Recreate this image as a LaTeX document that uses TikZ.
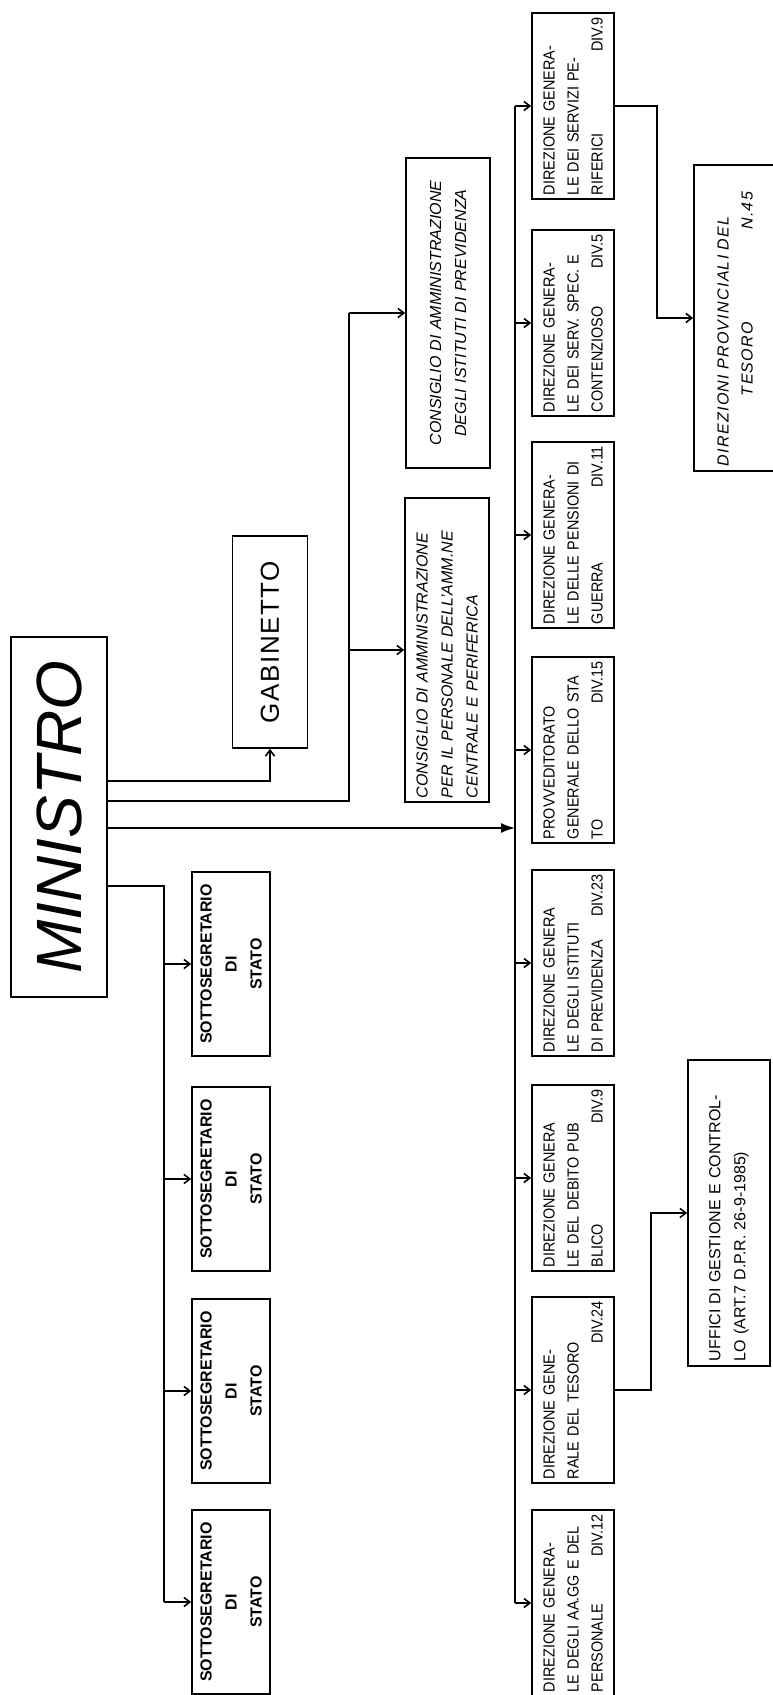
\documentclass[tikz,border=0pt]{standalone}
\usepackage{fontspec}
\setmainfont{Liberation Sans}
\newfontfamily\hand[FakeStretch=0.9]{Liberation Sans}
\usepackage{tikz}
\usetikzlibrary{shapes,calc}
\usetikzlibrary{arrows.meta}
\usetikzlibrary{positioning}
\tikzset{
    orgBox/.style={
        ,   draw
        ,   rotate=90
        ,   line width=1.6pt
        ,   inner sep=3pt
        ,   text=black
    },
    dirBox/.style={ % boxes of the direzioni column
        ,   orgBox
        ,   minimum width=186pt
        ,   minimum height=82pt
        ,   text width=178pt
        ,   align=left
        ,   font={\hand\fontsize{16}{24}\selectfont}
    },
    sottoBox/.style={
        ,   orgBox
        ,   minimum width=184pt
        ,   minimum height=78pt
        ,   text width=176pt
        ,   align=center
        ,   font={\fontsize{16}{25}\selectfont\bfseries}
    },
    consBox/.style={
        ,   orgBox
        ,   minimum width=#1
        ,   minimum height=84pt
        ,   text width=296pt
        ,   font={\fontsize{16}{25}\selectfont\itshape}
    },
    link/.style={line width=1.6pt},
    arr/.style={link, -{Straight Barb[length=6pt,width=9pt]}},
    bigArr/.style={link, -{Latex[length=14pt,width=10pt]}},
}

\begin{document}
\begin{tikzpicture}[x=1pt, y=-1pt]
\useasboundingbox (0,0) rectangle (773,1695);

\node[orgBox, minimum width=360pt, minimum height=96pt, font={\fontsize{64}{64}\selectfont\itshape}] (Min) at (59,817) {MINISTRO};
\node[orgBox, minimum width=212pt, minimum height=75pt, font={\fontsize{26}{26}\selectfont\addfontfeature{LetterSpace=6}}] (Gab) at (270,642) {GABINETTO};

\node[consBox=310pt, align=center] (Cons1) at (448,313) {CONSIGLIO DI AMMINISTRAZIONE\\DEGLI ISTITUTI DI PREVIDENZA};
\node[consBox=304pt, align=left] (Cons2) at (447,650) {CONSIGLIO DI AMMINISTRAZIONE\\PER IL PERSONALE DELL'AMM.NE\\CENTRALE E PERIFERICA};

% direzioni generali
\foreach \n/\y/\t in {
  1/106/{DIREZIONE GENERA-\\LE DEI SERVIZI PE-\\RIFERICI\hfill DIV.9},
  2/323/{DIREZIONE GENERA-\\LE DEI SERV. SPEC. E\\CONTENZIOSO\hfill DIV.5},
  3/535/{DIREZIONE GENERA-\\LE DELLE PENSIONI DI\\GUERRA\hfill DIV.11},
  4/750/{PROVVEDITORATO\\GENERALE DELLO STA\\TO\hfill DIV.15},
  5/963/{DIREZIONE GENERA\\LE DEGLI ISTITUTI\\DI PREVIDENZA\hfill DIV.23},
  6/1178/{DIREZIONE GENERA\\LE DEL DEBITO PUB\\BLICO\hfill DIV.9},
  7/1390/{DIREZIONE GENE-\\RALE DEL TESORO\\\hspace*{\fill}DIV.24},
  8/1603/{DIREZIONE GENERA-\\LE DEGLI AA.GG E DEL\\PERSONALE\hfill DIV.12}
}{
  \node[dirBox] (D\n) at (573,\y) {\t};
}

\foreach \n/\y in {1/964,2/1179,3/1391,4/1602}{
  \node[sottoBox] (S\n) at (231,\y) {SOTTOSEGRETARIO\\DI\\STATO};
}

\node[orgBox, minimum width=306pt, minimum height=82pt, text width=296pt, align=left, font={\fontsize{16}{24}\selectfont\itshape\addfontfeature{LetterSpace=8}}] (Prov) at (735,318) {DIREZIONI PROVINCIALI DEL\\\hspace*{70pt}TESORO\hfill N.45\hspace*{22pt}};
\node[orgBox, minimum width=306pt, minimum height=82pt, text width=296pt, align=left, font={\fontsize{16}{25}\selectfont}] (Uff) at (729,1213) {UFFICI DI GESTIONE E CONTROL-\\LO (ART.7 D.P.R. 26-9-1985)};

\coordinate (Gbus) at (272,781);
\coordinate (Cbus) at (349,801);
\coordinate (Dbus) at (515,828);
\coordinate (Sbus) at (164,886);

\draw[arr] (Min.south |- Gbus) -| (Gab.west);

\draw[link] (Min.south |- Cbus) -- (Cbus) -- (Cbus |- Cons1.north);
\draw[arr] (Cbus |- Cons1.north) -- (Cons1.north);
\draw[arr] (Cbus |- Cons2.north) -- (Cons2.north);

\draw[bigArr] (Min.south |- Dbus) -- (Dbus);
\draw[link] (D1.north -| Dbus) -- (D8.north -| Dbus);
\foreach \n in {1,...,8}{
  \draw[arr] (D\n.north -| Dbus) -- (D\n.north);
}

\draw[link] (Min.south |- Sbus) -- (Sbus) -- (Sbus |- S4.north);
\foreach \n in {1,...,4}{
  \draw[arr] (Sbus |- S\n.north) -- (S\n.north);
}

\draw[arr] (D1.south) -- ++(42,0) |- (Prov.north); % to the provincial offices
\draw[arr] (D7.south) -- ++(36,0) |- (Uff.north);
\end{tikzpicture}
\end{document}
